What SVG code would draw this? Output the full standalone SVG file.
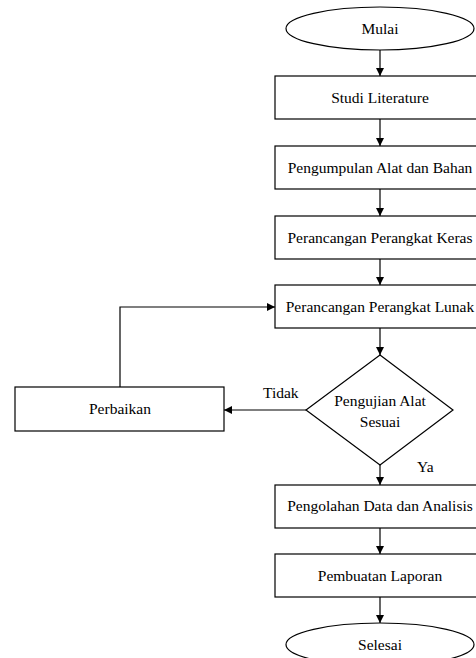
<svg xmlns="http://www.w3.org/2000/svg" width="476" height="658" viewBox="0 0 476 658">
<style>
.s{fill:#fff;stroke:#000;stroke-width:1.2}
.t{font-family:"Liberation Serif","Times New Roman",serif;font-size:15.5px;fill:#000;text-anchor:middle}
.l{font-family:"Liberation Serif","Times New Roman",serif;font-size:15.5px;fill:#000}
.c{fill:none;stroke:#000;stroke-width:1.2}
</style>
<defs>
<marker id="ah" viewBox="0 0 10 10" refX="10" refY="5" markerWidth="8" markerHeight="8" markerUnits="userSpaceOnUse" orient="auto">
<path d="M0,0 L10,5 L0,10 z" fill="#000"/>
</marker>
</defs>
<rect width="476" height="658" fill="#fff"/>
<g id="connectors">
<line class="c" x1="380" y1="50" x2="380" y2="76" marker-end="url(#ah)"/>
<line class="c" x1="380" y1="119" x2="380" y2="146" marker-end="url(#ah)"/>
<line class="c" x1="380" y1="189" x2="380" y2="216" marker-end="url(#ah)"/>
<line class="c" x1="380" y1="259" x2="380" y2="285" marker-end="url(#ah)"/>
<line class="c" x1="380" y1="328" x2="380" y2="355" marker-end="url(#ah)"/>
<line class="c" x1="380" y1="465" x2="380" y2="485" marker-end="url(#ah)"/>
<line class="c" x1="380" y1="528" x2="380" y2="554" marker-end="url(#ah)"/>
<line class="c" x1="380" y1="597" x2="380" y2="623" marker-end="url(#ah)"/>
<line class="c" x1="306" y1="410" x2="224" y2="410" marker-end="url(#ah)"/>
<polyline class="c" points="120,387 120,307 275,307" marker-end="url(#ah)"/>
<text class="l" x="263" y="398">Tidak</text>
<text class="l" x="417" y="472">Ya</text>
</g>
<g id="mulai">
<ellipse class="s" cx="380" cy="28.5" rx="94" ry="21.5"/>
<text class="t" x="380" y="34">Mulai</text>
</g>
<g id="studi">
<rect class="s" x="275" y="76" width="210" height="43"/>
<text class="t" x="380" y="103">Studi Literature</text>
</g>
<g id="pengumpulan">
<rect class="s" x="275" y="146" width="210" height="43"/>
<text class="t" x="380" y="173">Pengumpulan Alat dan Bahan</text>
</g>
<g id="keras">
<rect class="s" x="275" y="216" width="210" height="43"/>
<text class="t" x="380" y="243">Perancangan Perangkat Keras</text>
</g>
<g id="lunak">
<rect class="s" x="275" y="285" width="210" height="43"/>
<text class="t" x="380" y="312">Perancangan Perangkat Lunak</text>
</g>
<g id="pengujian">
<polygon class="s" points="380,355 453,410 380,465 306,410"/>
<text class="t" x="380" y="406">Pengujian Alat</text>
<text class="t" x="380" y="427">Sesuai</text>
</g>
<g id="perbaikan">
<rect class="s" x="15" y="387" width="209" height="44"/>
<text class="t" x="120" y="414">Perbaikan</text>
</g>
<g id="pengolahan">
<rect class="s" x="275" y="485" width="210" height="43"/>
<text class="t" x="380" y="511">Pengolahan Data dan Analisis</text>
</g>
<g id="pembuatan">
<rect class="s" x="275" y="554" width="210" height="43"/>
<text class="t" x="380" y="581">Pembuatan Laporan</text>
</g>
<g id="selesai">
<ellipse class="s" cx="380" cy="644.5" rx="94" ry="21.5"/>
<text class="t" x="380" y="650">Selesai</text>
</g>
</svg>
